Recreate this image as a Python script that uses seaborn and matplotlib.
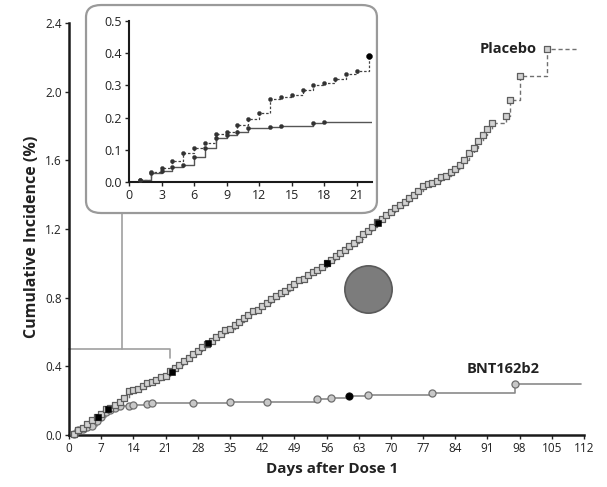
import matplotlib
matplotlib.use("Agg")
import matplotlib.pyplot as plt
import seaborn as sns
import pandas as pd
from matplotlib.patches import FancyBboxPatch

# ---------------- data ----------------
placebo_days = [0, 1, 2, 3, 4, 5, 6, 7, 8, 9, 10, 11, 12, 13, 14, 15, 16, 17, 18, 19, 20, 21,
                22, 23, 24, 25, 26, 27, 28, 29, 30, 31, 32, 33, 34, 35, 36, 37, 38, 39, 40,
                41, 42, 43, 44, 45, 46, 47, 48, 49, 50, 51, 52, 53, 54, 55, 56, 57, 58, 59,
                60, 61, 62, 63, 64, 65, 66, 67, 68, 69, 70, 71, 72, 73, 74, 75, 76, 77, 78,
                79, 80, 81, 82, 83, 84, 85, 86, 87, 88, 89, 90, 91, 92, 95, 96, 98, 104]
placebo_vals = [0.0, 0.006, 0.03, 0.043, 0.065, 0.09, 0.105, 0.12, 0.15, 0.156, 0.177, 0.195,
                0.213, 0.257, 0.263, 0.27, 0.285, 0.30, 0.308, 0.319, 0.335, 0.346,
                0.37, 0.39, 0.41, 0.43, 0.45, 0.47, 0.49, 0.51, 0.53, 0.55, 0.57, 0.59, 0.61,
                0.62, 0.64, 0.66, 0.68, 0.70, 0.72, 0.73, 0.75, 0.77, 0.79, 0.81, 0.83, 0.84,
                0.86, 0.88, 0.90, 0.91, 0.93, 0.95, 0.96, 0.98, 1.00, 1.02, 1.04, 1.06, 1.08,
                1.10, 1.12, 1.14, 1.17, 1.19, 1.21, 1.24, 1.26, 1.28, 1.30, 1.32, 1.34, 1.36,
                1.38, 1.40, 1.42, 1.45, 1.46, 1.47, 1.48, 1.50, 1.51, 1.53, 1.55, 1.57, 1.60,
                1.64, 1.67, 1.71, 1.75, 1.78, 1.82, 1.86, 1.95, 2.09, 2.25]
placebo_end_day = 110.4
placebo_black_days = [6.4, 8.5, 22.3, 30.3, 56.2, 67.2]
placebo_black_vals = [0.107, 0.15, 0.369, 0.534, 1.0, 1.236]

bnt_days = [0, 1, 2, 3, 4, 5, 6, 7, 8, 9, 10, 11, 13, 14, 17, 18, 27, 35, 43, 54, 57, 61, 65, 79, 97]
bnt_vals = [0.0, 0.006, 0.028, 0.035, 0.047, 0.053, 0.079, 0.105, 0.136, 0.146, 0.156, 0.167,
            0.17, 0.174, 0.182, 0.186, 0.188, 0.19, 0.195, 0.207, 0.215, 0.226, 0.234, 0.245, 0.295]
bnt_end_day = 111.4
bnt_black_days = [61]
bnt_black_vals = [0.226]

# inset (first 21 days)
in_pl_days = [0, 1, 2, 3, 4, 5, 6, 7, 8, 9, 10, 11, 12, 13, 14, 15, 16, 17, 18, 19, 20, 21, 22.1]
in_pl_vals = [0.0, 0.006, 0.03, 0.043, 0.065, 0.09, 0.105, 0.12, 0.15, 0.156, 0.177, 0.195,
              0.213, 0.257, 0.263, 0.27, 0.285, 0.30, 0.308, 0.319, 0.335, 0.346, 0.39]
in_bnt_days = [0, 1, 2, 3, 4, 5, 6, 7, 8, 9, 10, 11, 13, 14, 17, 18]
in_bnt_vals = [0.0, 0.006, 0.028, 0.035, 0.047, 0.053, 0.079, 0.105, 0.136, 0.146, 0.156,
               0.167, 0.17, 0.174, 0.182, 0.186]
inset_end_day = 22.4

circle_day = [65]
circle_val = [0.85]

main_xticks = list(range(0, 113, 7))
main_yticks = [0.0, 0.4, 0.8, 1.2, 1.6, 2.0, 2.4]
inset_xticks = list(range(0, 22, 3))
inset_yticks = [0.0, 0.1, 0.2, 0.3, 0.4, 0.5]

# ---------------- style ----------------
sns.set_style("ticks")
plt.rcParams['font.family'] = ['Open Sans', 'DejaVu Sans']

fig = plt.figure(figsize=(6.07, 4.87), dpi=100)
fig.patch.set_facecolor('white')

ax = fig.add_axes([0.1137, 0.1068, 0.8484, 0.846])

def ext(days, vals, end):
    return pd.DataFrame({'day': list(days) + [end], 'val': list(vals) + [vals[-1]]})

pl = ext(placebo_days, placebo_vals, placebo_end_day)
bn = ext(bnt_days, bnt_vals, bnt_end_day)

sns.lineplot(data=pl, x='day', y='val', ax=ax, drawstyle='steps-post', color='#707070',
             lw=1.0, linestyle=(0, (3, 2)), estimator=None, sort=False, zorder=2)
sns.lineplot(data=bn, x='day', y='val', ax=ax, drawstyle='steps-post', color='#8a8a8a',
             lw=1.2, estimator=None, sort=False, zorder=2)

pm = pd.DataFrame({'day': placebo_days[1:], 'val': placebo_vals[1:]})
bm = pd.DataFrame({'day': bnt_days[1:], 'val': bnt_vals[1:]})
sns.scatterplot(data=bm, x='day', y='val', ax=ax, marker='o', s=26, color='#c8c8c8',
                edgecolor='#6e6e6e', linewidth=0.9, zorder=3, clip_on=False)
sns.scatterplot(data=pm, x='day', y='val', ax=ax, marker='s', s=20, color='#d2d2d2',
                edgecolor='#5e5e5e', linewidth=0.9, zorder=4, clip_on=False)
sns.scatterplot(x=placebo_black_days, y=placebo_black_vals, ax=ax, marker='s', s=24,
                color='black', edgecolor='black', zorder=5)
sns.scatterplot(x=bnt_black_days, y=bnt_black_vals, ax=ax, marker='o', s=26,
                color='black', edgecolor='black', zorder=5)

sns.scatterplot(x=circle_day, y=circle_val, ax=ax, marker='o', s=1160, color='#7c7c7c',
                edgecolor='#5a5a5a', linewidth=1.2, zorder=3)

# connector bracket to inset
ax.plot([0, 22, 22], [0.5, 0.5, 0.45], color='#a0a0a0', lw=1.2, zorder=1, clip_on=False)
ax.plot([11.5, 11.5], [0.5, 1.293], color='#a0a0a0', lw=1.2, zorder=1, clip_on=False)

ax.text(101.8, 2.25, 'Placebo', ha='right', va='center', fontsize=10.5, fontweight='bold',
        color='#222222')
ax.text(86.5, 0.385, 'BNT162b2', ha='left', va='center', fontsize=10.5, fontweight='bold',
        color='#222222')

ax.set_xlim(0, 112)
ax.set_ylim(0, 2.4)
ax.set_xticks(main_xticks)
ax.set_yticks(main_yticks)
ax.set_yticklabels([f'{v:.1f}' for v in main_yticks])
ax.tick_params(axis='both', labelsize=8.5, length=3, width=1.0, pad=2, colors='#222222')
for s in ['top', 'right']:
    ax.spines[s].set_visible(False)
for s in ['left', 'bottom']:
    ax.spines[s].set_linewidth(1.8)
    ax.spines[s].set_color('#1a1a1a')
ax.set_xlabel('Days after Dose 1', fontsize=11, fontweight='bold', color='#222222')
ax.set_ylabel('Cumulative Incidence (%)', fontsize=11.5, fontweight='bold', color='#222222')
ax.xaxis.set_label_coords(0.51, -0.066)
ax.yaxis.set_label_coords(-0.056, 0.48)

# ---------------- inset ----------------
box = FancyBboxPatch((0.1417, 0.5626), 0.4793, 0.4271,
                     boxstyle='round,pad=0,rounding_size=0.025',
                     transform=fig.transFigure, facecolor='white', edgecolor='#9a9a9a',
                     lw=1.6, zorder=5)
fig.add_artist(box)

axin = fig.add_axes([0.2125, 0.6263, 0.4003, 0.3306])
axin.set_zorder(10)
axin.patch.set_alpha(0)
ip = ext(in_pl_days, in_pl_vals, inset_end_day)
ib = ext(in_bnt_days, in_bnt_vals, inset_end_day)
sns.lineplot(data=ip, x='day', y='val', ax=axin, drawstyle='steps-post', color='#444444',
             lw=0.9, linestyle=(0, (2, 1.5)), estimator=None, sort=False)
sns.lineplot(data=ib, x='day', y='val', ax=axin, drawstyle='steps-post', color='#555555',
             lw=1.0, estimator=None, sort=False)
sns.scatterplot(x=in_pl_days[1:-1], y=in_pl_vals[1:-1], ax=axin, marker='o', s=9,
                color='#333333', edgecolor='#333333', zorder=4, clip_on=False)
sns.scatterplot(x=in_bnt_days[1:], y=in_bnt_vals[1:], ax=axin, marker='o', s=9,
                color='#333333', edgecolor='#333333', zorder=4, clip_on=False)
sns.scatterplot(x=[in_pl_days[-1]], y=[in_pl_vals[-1]], ax=axin, marker='o', s=18,
                color='black', edgecolor='black', zorder=5, clip_on=False)

axin.set_xlim(0, inset_end_day)
axin.set_ylim(0, 0.5)
axin.set_xticks(inset_xticks)
axin.set_yticks(inset_yticks)
axin.set_yticklabels([f'{v:.1f}' for v in inset_yticks])
axin.tick_params(axis='both', labelsize=9, length=3, width=1.0, pad=2, colors='#222222')
for s in ['top', 'right']:
    axin.spines[s].set_visible(False)
for s in ['left', 'bottom']:
    axin.spines[s].set_linewidth(1.5)
    axin.spines[s].set_color('#1a1a1a')
axin.set_xlabel('')
axin.set_ylabel('')

fig.savefig('out.png', dpi=100, facecolor='white')
